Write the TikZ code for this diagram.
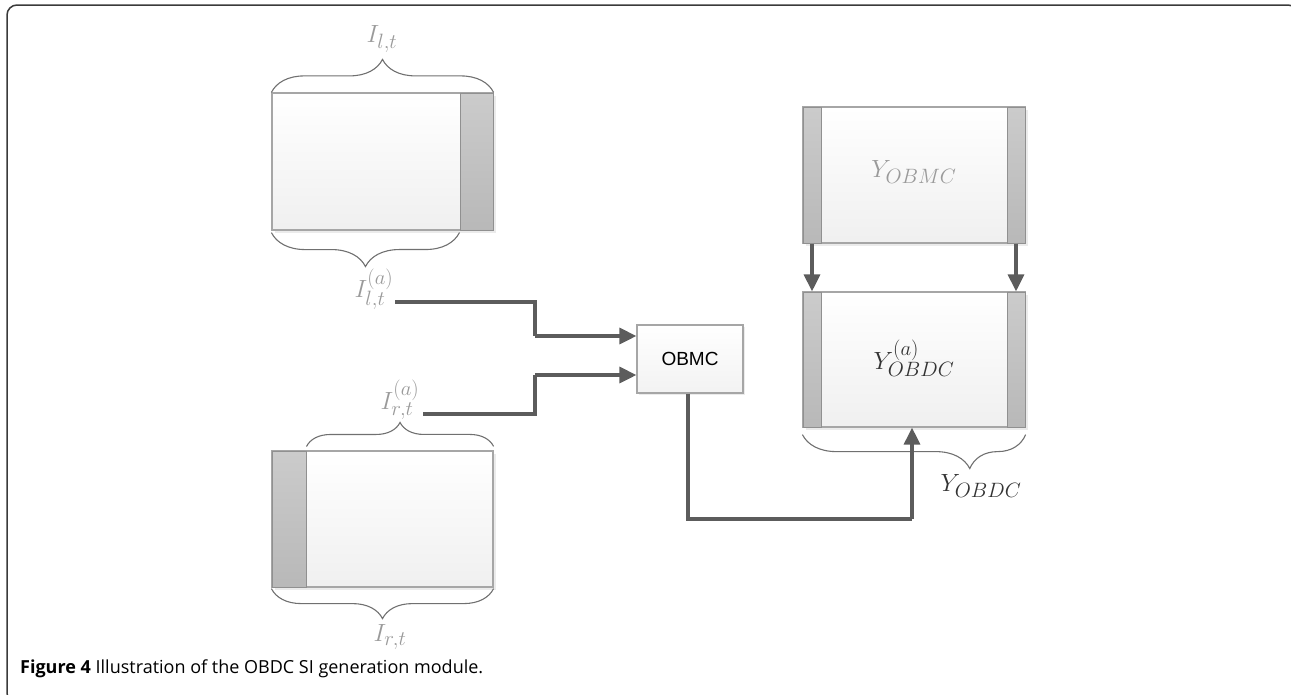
\documentclass[tikz,border=0pt]{standalone}
\usepackage{fontspec}
\newfontfamily\capfont{Open Sans}
\newfontfamily\arialfont{Liberation Sans}
\usetikzlibrary{decorations.pathreplacing,arrows.meta,calc,shadows}
\definecolor{framec}{HTML}{3A3A3A}
\definecolor{boxline}{HTML}{A6A6A6}
\definecolor{bandfill}{HTML}{C2C2C2}
\definecolor{bandline}{HTML}{909090}
\definecolor{connc}{HTML}{5C5C5C}
\definecolor{bracec}{HTML}{707070}
\definecolor{graytext}{HTML}{9A9A9A}
\definecolor{darktext}{HTML}{333333}
\tikzset{
  frameline/.style={draw=framec, line width=1.5pt, rounded corners=10pt},
  imgbox/.style={rectangle, draw=boxline, line width=1.2pt, top color=white, bottom color=black!6, inner sep=0pt,
    drop shadow={shadow xshift=3pt, shadow yshift=-3pt, fill=black!8, opacity=1}},
  bandbox/.style={rectangle, draw=bandline, line width=1pt, top color=bandfill!85!white, bottom color=bandfill!95!black, inner sep=0pt},
  procbox/.style={rectangle, draw=boxline, line width=1.2pt, top color=white, bottom color=black!5, inner sep=0pt,
    drop shadow={shadow xshift=2pt, shadow yshift=-2pt, fill=black!8, opacity=1},
    font=\arialfont\fontsize{19}{22}\selectfont, text=black},
  conn/.style={draw=connc, line width=3.1pt, -{Triangle[length=17pt,width=16pt]}},
  connline/.style={draw=connc, line width=3.1pt},
  bracep/.style={draw=bracec, line width=1.1pt, decorate},
  glabel/.style={text=graytext, inner sep=0pt, font=\fontsize{24.88}{28}\selectfont},
  dlabel/.style={text=darktext, inner sep=0pt, font=\fontsize{24.88}{28}\selectfont},
  captext/.style={anchor=base west, inner sep=0pt, font=\capfont\fontsize{18}{21}\selectfont, text=black}
}
\begin{document}
\begin{tikzpicture}[x=1pt,y=-1pt]
\useasboundingbox (0,0) rectangle (1291,694);
\begin{scope}
  \clip (0,0) rectangle (1291,694);
  \draw[frameline] (7,5) rectangle (1298,703);
\end{scope}

% left image box (I_{l,t})
\node[imgbox, minimum width=221pt, minimum height=137pt] (L) at (382.5,161.5) {};
\node[bandbox, minimum width=33pt, minimum height=137pt] (Lb) at (476.5,161.5) {};
% right image box (I_{r,t})
\node[imgbox, minimum width=221pt, minimum height=136pt] (R) at (382.5,519) {};
\node[bandbox, minimum width=34pt, minimum height=136pt] (Rb) at (289,519) {};
% OBMC block
\node[procbox, minimum width=106pt, minimum height=68pt] (obmc) at (690,359) {OBMC};
% Y_OBMC box
\node[imgbox, minimum width=222pt, minimum height=136pt] (ymc) at (914,175) {};
\node[bandbox, minimum width=18pt, minimum height=136pt] (ymcL) at (812,175) {};
\node[bandbox, minimum width=18pt, minimum height=136pt] (ymcR) at (1016,175) {};
\node[glabel] (ymct) at (914,172) {$Y_{OBMC}$};
% Y_OBDC box
\node[imgbox, minimum width=222pt, minimum height=135pt] (ydc) at (914,359.5) {};
\node[bandbox, minimum width=18pt, minimum height=135pt] (ydcL) at (812,359.5) {};
\node[bandbox, minimum width=18pt, minimum height=135pt] (ydcR) at (1016,359.5) {};
\node[dlabel] (ydct) at (914,358) {$Y^{(a)}_{OBDC}$};

% braces
\draw[bracep, decoration={brace, amplitude=33pt}] (L.north west) -- (L.north east);
\node[glabel] (ilt) at (382,39) {$I_{l,t}$};
\draw[bracep, decoration={brace, amplitude=34pt}] ($(Lb.south west)+(0,2)$) -- ($(L.south west)+(0,2)$);
\node[glabel] (ilta) at (374,289) {$I^{(a)}_{l,t}$};

\draw[bracep, decoration={brace, amplitude=24pt}] ($(Rb.north east)+(0,-4)$) -- ($(R.north east)+(0,-4)$);
\node[glabel] (irta) at (400,400) {$I^{(a)}_{r,t}$};
\draw[bracep, decoration={brace, amplitude=30pt}] ($(R.south east)+(0,1)$) -- ($(R.south west)+(0,1)$);
\node[glabel] (irt) at (390,637) {$I_{r,t}$};

\draw[bracep, decoration={brace, amplitude=34pt, aspect=0.25}] ($(ydc.south east)+(0,7)$) -- ($(ydc.south west)+(0,7)$);
\node[dlabel] (ydcb) at (981,486) {$Y_{OBDC}$};

% connectors
\coordinate (lsrc) at (395,302);
\coordinate (rsrc) at (423,414);
\coordinate (k1) at (535,336);
\coordinate (k2) at (535,375);
\coordinate (k3) at (688,519);
\coordinate (k4) at (912,519);
\draw[connline] (lsrc) -| (k1);
\draw[conn] (k1) -- (k1 -| obmc.west);
\draw[connline] (rsrc) -| (k2);
\draw[conn] (k2) -- (k2 -| obmc.west);
\draw[connline] (obmc.south -| k3) -- (k3) -- (k4);
\draw[conn] (k4) -- (k4 |- ydc.south);
\draw[conn] (ymcL.south) -- (ymcL.south |- ydc.north);
\draw[conn] (ymcR.south) -- (ymcR.south |- ydc.north);

% caption
\node[captext] (cap) at (20,673) {\textbf{Figure 4} Illustration of the OBDC SI generation module.};
\end{tikzpicture}
\end{document}
